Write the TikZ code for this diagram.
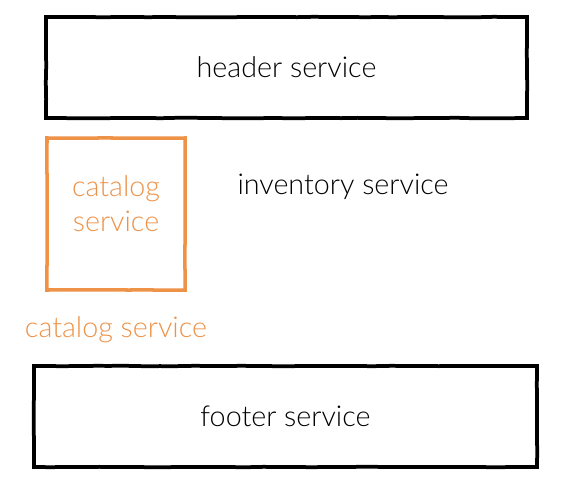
\documentclass[tikz,border=0pt]{standalone}
\usepackage{fontspec}
\setmainfont{Lato}[UprightFont=* Light]
\usetikzlibrary{positioning,decorations.pathmorphing}
\definecolor{svcorange}{RGB}{238,146,72}
\begin{document}
\begin{tikzpicture}[
  x=0.03cm, y=-0.03cm,
  every node/.style={font=\fontsize{24.5}{30}\selectfont, inner sep=0pt}
]
\tikzset{
  sketch/.style={decorate, decoration={random steps, segment length=14pt, amplitude=0.2pt}},
  servico/.style={draw=black, line width=3.2pt, sketch, minimum height=3.03cm},
  laranja/.style={draw=svcorange, line width=3pt, sketch},
  textolaranja/.style={text=svcorange, align=center}
}
\useasboundingbox (0,0) rectangle (585,490);
\node[servico, minimum width=14.43cm] (header) at (286.5,67.5) {header service};
\node[laranja, minimum width=4.14cm, minimum height=4.56cm] (catalog) at (116,214) {};
\node[textolaranja] (catalog-text) at (116,204) {catalog\\service};
\node (inventory) at (343,187) {inventory service};
\node[textolaranja] (catalog-label) at (116,330) {catalog service};
\node[servico, minimum width=15.09cm] (footer) at (285.5,416.5) {footer service};
\end{tikzpicture}
\end{document}
